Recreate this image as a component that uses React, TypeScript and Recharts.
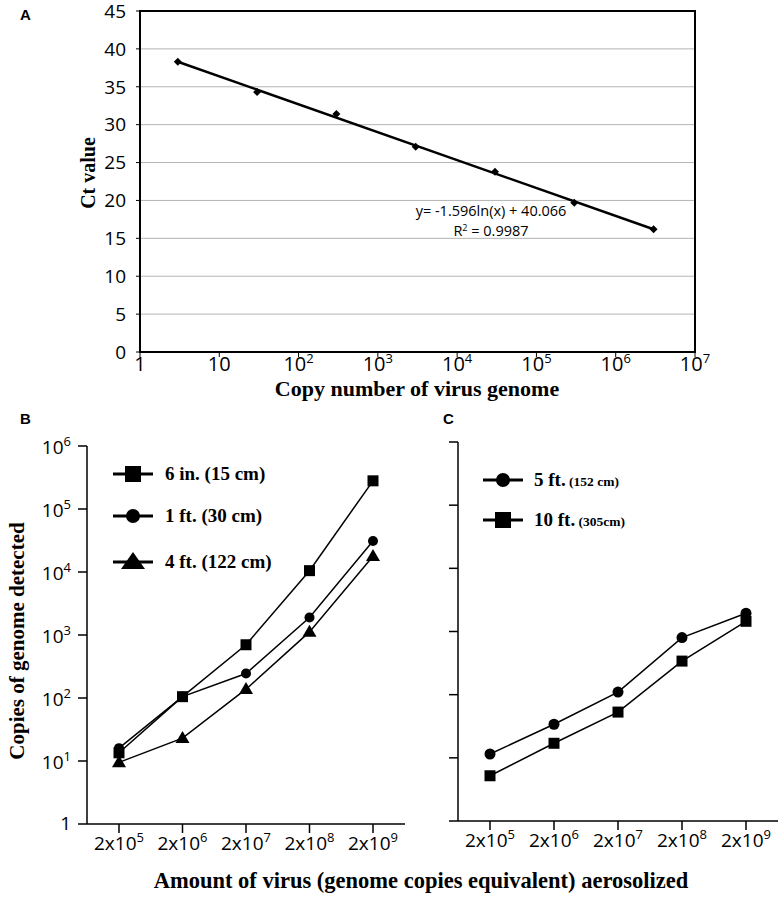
import React from "react";
import {
    LineChart,
    Line,
    XAxis,
    YAxis,
    CartesianGrid,
    ReferenceArea,
} from "recharts";

// Panel A: standard curve
const copyNumbers = [3, 30, 300, 3000, 30000, 300000, 3000000];
const ctValues = [38.3, 34.3, 31.4, 27.1, 23.8, 19.7, 16.2];
const trendCt = [38.3, null, null, null, null, null, 16.2];
const copyTicks = [1, 10, 100, 1000, 10000, 100000, 1000000, 10000000];
const copyTickExp = ["", "", "2", "3", "4", "5", "6", "7"];
const copyTickBase = ["1", "10", "10", "10", "10", "10", "10", "10"];
const ctTicks = [0, 5, 10, 15, 20, 25, 30, 35, 40, 45];

// Panels B and C: aerosol sampling
const amounts = ["2x10^5", "2x10^6", "2x10^7", "2x10^8", "2x10^9"];
const amountExp = ["5", "6", "7", "8", "9"];
const sixInch = [13.5, 105, 700, 10500, 280000];
const oneFoot = [16, 105, 245, 1900, 31000];
const fourFeet = [9.5, 23, 138, 1120, 17800];
const fiveFeet = [11.5, 34, 110, 800, 1950];
const tenFeet = [5.2, 17, 53, 340, 1450];
const countTicks = [1, 10, 100, 1000, 10000, 100000, 1000000];
const countTickExp = ["", "1", "2", "3", "4", "5", "6"];

const rowsA = copyNumbers.map((x, i) => ({ copies: x, ct: ctValues[i], trend: trendCt[i] }));
const rowsB = amounts.map((a, i) => ({ amount: a, six: sixInch[i], one: oneFoot[i], four: fourFeet[i] }));
const rowsC = amounts.map((a, i) => ({ amount: a, five: fiveFeet[i], ten: tenFeet[i] }));

const SANS = "'Open Sans', sans-serif";
const SERIF = "'Liberation Serif', 'Times New Roman', serif";
const BOLD_SANS = "'Liberation Sans', Arial, sans-serif";

const squareDot = (size: number) => (p: any) =>
    p.cx == null ? <g key={`s-${p.index}`} /> : (
        <rect key={`s-${p.index}`} x={p.cx - size / 2} y={p.cy - size / 2} width={size} height={size} fill="#000" />
    );
const circleDot = (r: number) => (p: any) =>
    p.cx == null ? <g key={`c-${p.index}`} /> : (
        <circle key={`c-${p.index}`} cx={p.cx} cy={p.cy} r={r} fill="#000" />
    );
const triangleDot = (w: number, h: number) => (p: any) =>
    p.cx == null ? <g key={`t-${p.index}`} /> : (
        <path key={`t-${p.index}`} d={`M${p.cx},${p.cy - h * 0.6}L${p.cx + w / 2},${p.cy + h * 0.4}L${p.cx - w / 2},${p.cy + h * 0.4}Z`} fill="#000" />
    );
const diamondDot = (p: any) =>
    p.cx == null ? <g key={`d-${p.index}`} /> : (
        <path key={`d-${p.index}`} d={`M${p.cx},${p.cy - 4}L${p.cx + 4},${p.cy}L${p.cx},${p.cy + 4}L${p.cx - 4},${p.cy}Z`} fill="#000" />
    );

const CopyTick = (props: any) => {
    const i = props.index;
    return (
        <text x={props.x} y={props.y + 10} textAnchor="middle" fontFamily={SANS} fontSize={20} fill="#000">
            <tspan>{copyTickBase[i]}</tspan>
            {copyTickExp[i] && <tspan dy={-8} fontSize={13}>{copyTickExp[i]}</tspan>}
        </text>
    );
};

const CountTick = (props: any) => {
    const i = props.index;
    const exp = countTickExp[i];
    return (
        <text x={props.x} y={props.y + (exp ? 8 : 6)} textAnchor="end" fontFamily={SANS} fontSize={19} fill="#000">
            <tspan>{exp ? "10" : "1"}</tspan>
            {exp && <tspan dy={-8} fontSize={13}>{exp}</tspan>}
        </text>
    );
};

const AmountTick = (props: any) => {
    const i = props.index;
    return (
        <text x={props.x} y={props.y + 15} textAnchor="middle" fontFamily={SANS} fontSize={19} fill="#000">
            <tspan>2x10</tspan>
            <tspan dy={-8} fontSize={13}>{amountExp[i]}</tspan>
        </text>
    );
};

const NoTick = () => <g />;

const axisStroke = { stroke: "#000", strokeWidth: 1.5 };

const PanelA = () => (
    <LineChart width={782} height={400} data={rowsA} margin={{ top: 11, right: 87, bottom: 0, left: 0 }}>
        <CartesianGrid vertical={false} stroke="#b4b4b4" strokeWidth={1} />
        <XAxis
            dataKey="copies"
            type="number"
            scale="log"
            domain={[1, 10000000]}
            ticks={copyTicks}
            interval={0}
            allowDataOverflow
            height={48}
            tickSize={5}
            tickMargin={4}
            tickLine={{ stroke: "#000" }}
            axisLine={{ stroke: "#000", strokeWidth: 2 }}
            tick={(p: any) => <CopyTick {...p} />}
        />
        <YAxis
            type="number"
            domain={[0, 45]}
            ticks={ctTicks}
            interval={0}
            width={140}
            tickSize={4}
            tickMargin={10}
            tickLine={{ stroke: "#000" }}
            axisLine={{ stroke: "#000", strokeWidth: 2 }}
            tick={{ fontFamily: SANS, fontSize: 19, fill: "#000" }}
        />
        <ReferenceArea x1={1} x2={10000000} y1={0} y2={45} fill="none" stroke="#000" strokeWidth={2} />
        <Line
            dataKey="trend"
            connectNulls
            stroke="#000"
            strokeWidth={2.5}
            dot={false}
            isAnimationActive={false}
        />
        <Line
            dataKey="ct"
            stroke="none"
            dot={diamondDot}
            activeDot={false}
            isAnimationActive={false}
        />
    </LineChart>
);

const PanelB = () => (
    <LineChart width={420} height={467} data={rowsB} margin={{ top: 16, right: 15, bottom: 0, left: 0 }}>
        <XAxis
            dataKey="amount"
            padding={{ left: 32, right: 32 }}
            interval={0}
            height={73}
            tickSize={9}
            tickMargin={2}
            tickLine={axisStroke}
            axisLine={axisStroke}
            tick={(p: any) => <AmountTick {...p} />}
        />
        <XAxis xAxisId="top" dataKey="amount" orientation="top" height={0} tick={false} tickLine={false} axisLine={axisStroke} />
        <YAxis
            type="number"
            scale="log"
            domain={[1, 1000000]}
            ticks={countTicks}
            interval={0}
            allowDataOverflow
            width={87}
            tickSize={9}
            tickMargin={7}
            tickLine={axisStroke}
            axisLine={axisStroke}
            tick={(p: any) => <CountTick {...p} />}
        />
        <YAxis yAxisId="right" orientation="right" type="number" domain={[0, 1]} width={0} tick={false} tickLine={false} axisLine={axisStroke} />
        <Line dataKey="four" stroke="#000" strokeWidth={1.5} dot={triangleDot(14, 12)} activeDot={false} isAnimationActive={false} />
        <Line dataKey="one" stroke="#000" strokeWidth={1.5} dot={circleDot(5)} activeDot={false} isAnimationActive={false} />
        <Line dataKey="six" stroke="#000" strokeWidth={1.5} dot={squareDot(11)} activeDot={false} isAnimationActive={false} />
    </LineChart>
);

const PanelC = () => (
    <LineChart width={362} height={467} data={rowsC} margin={{ top: 12, right: 4, bottom: 0, left: 0 }}>
        <XAxis
            dataKey="amount"
            padding={{ left: 32, right: 32 }}
            interval={0}
            height={76}
            tickSize={9}
            tickMargin={2}
            tickLine={axisStroke}
            axisLine={axisStroke}
            tick={(p: any) => <AmountTick {...p} />}
        />
        <XAxis xAxisId="top" dataKey="amount" orientation="top" height={0} tick={false} tickLine={false} axisLine={axisStroke} />
        <YAxis
            type="number"
            scale="log"
            domain={[1, 1000000]}
            ticks={countTicks}
            interval={0}
            allowDataOverflow
            width={38}
            tickSize={9}
            tickLine={axisStroke}
            axisLine={axisStroke}
            tick={NoTick}
        />
        <YAxis yAxisId="right" orientation="right" type="number" domain={[0, 1]} width={0} tick={false} tickLine={false} axisLine={axisStroke} />
        <Line dataKey="ten" stroke="#000" strokeWidth={1.5} dot={squareDot(11)} activeDot={false} isAnimationActive={false} />
        <Line dataKey="five" stroke="#000" strokeWidth={1.5} dot={circleDot(5.5)} activeDot={false} isAnimationActive={false} />
    </LineChart>
);

const legendB = [
    { y: 474, shape: "square", label: "6 in. (15 cm)" },
    { y: 516, shape: "circle", label: "1 ft. (30 cm)" },
    { y: 562, shape: "triangle", label: "4 ft. (122 cm)" },
];
const legendC = [
    { y: 480, shape: "circle", main: "5 ft.", sub: " (152 cm)" },
    { y: 520, shape: "square", main: "10 ft.", sub: " (305cm)" },
];

const LegendIcon = ({ x, y, shape }: { x: number; y: number; shape: string }) => (
    <g>
        <line x1={x - 20} x2={x + 20} y1={y} y2={y} stroke="#000" strokeWidth={3} />
        {shape === "square" && <rect x={x - 8} y={y - 8} width={16} height={16} fill="#000" />}
        {shape === "circle" && <circle cx={x} cy={y} r={7} fill="#000" />}
        {shape === "triangle" && <path d={`M${x},${y - 10}L${x + 12},${y + 7}L${x - 12},${y + 7}Z`} fill="#000" />}
    </g>
);

const Overlay = () => (
    <svg width={782} height={897} style={{ position: "absolute", left: 0, top: 0, pointerEvents: "none" }}>
        <text x={20} y={20} fontFamily={BOLD_SANS} fontWeight="bold" fontSize={15}>A</text>
        <text x={20} y={424} fontFamily={BOLD_SANS} fontWeight="bold" fontSize={15}>B</text>
        <text x={443} y={424} fontFamily={BOLD_SANS} fontWeight="bold" fontSize={15}>C</text>

        <text x={417} y={396} textAnchor="middle" fontFamily={SERIF} fontWeight="bold" fontSize={22}>
            Copy number of virus genome
        </text>
        <text transform="translate(95,173) rotate(-90)" textAnchor="middle" fontFamily={SERIF} fontWeight="bold" fontSize={20}>
            Ct value
        </text>
        <text x={491} y={216} textAnchor="middle" fontFamily={SANS} fontSize={14.5}>
            y= -1.596ln(x) + 40.066
        </text>
        <text x={491} y={236} textAnchor="middle" fontFamily={SANS} fontSize={14.5}>
            <tspan>R</tspan>
            <tspan dy={-5} fontSize={9}>2</tspan>
            <tspan dy={5}> = 0.9987</tspan>
        </text>

        <text transform="translate(24,641) rotate(-90)" textAnchor="middle" fontFamily={SERIF} fontWeight="bold" fontSize={21}>
            Copies of genome detected
        </text>
        <text x={421} y={888} textAnchor="middle" fontFamily={SERIF} fontWeight="bold" fontSize={22.5}>
            Amount of virus (genome copies equivalent) aerosolized
        </text>

        {legendB.map((e) => (
            <g key={e.label}>
                <LegendIcon x={133} y={e.y} shape={e.shape} />
                <text x={165} y={e.y + 6} fontFamily={SERIF} fontWeight="bold" fontSize={19}>{e.label}</text>
            </g>
        ))}
        {legendC.map((e) => (
            <g key={e.main}>
                <LegendIcon x={503} y={e.y} shape={e.shape} />
                <text x={534} y={e.y + 6} fontFamily={SERIF} fontWeight="bold" fontSize={19}>
                    <tspan>{e.main}</tspan>
                    <tspan fontSize={13.5}>{e.sub}</tspan>
                </text>
            </g>
        ))}
    </svg>
);

export default function App() {
    return (
        <div style={{ position: "absolute", left: 0, top: 0, width: 782, height: 897, background: "#fff" }}>
            <div style={{ position: "absolute", left: 0, top: 0 }}>
                <PanelA />
            </div>
            <div style={{ position: "absolute", left: 0, top: 430 }}>
                <PanelB />
            </div>
            <div style={{ position: "absolute", left: 420, top: 430 }}>
                <PanelC />
            </div>
            <Overlay />
        </div>
    );
}
